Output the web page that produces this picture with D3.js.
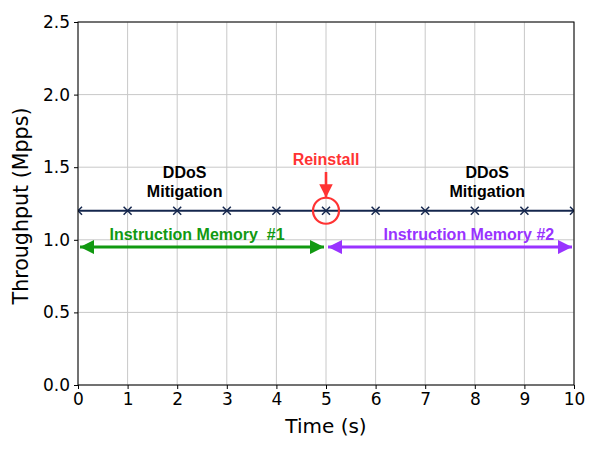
<!DOCTYPE html>
<html><head><meta charset="utf-8">
<script src="https://cdn.jsdelivr.net/npm/d3@7"></script>
<style>body{margin:0;background:#fff}</style>
</head><body>
<svg id="c" width="601" height="452"></svg>
<script>
const timeValues = [0,1,2,3,4,5,6,7,8,9,10];
const throughputValues = [1.2,1.2,1.2,1.2,1.2,1.2,1.2,1.2,1.2,1.2,1.2];
const xTicks = [0,1,2,3,4,5,6,7,8,9,10];
const yTicks = [0.0,0.5,1.0,1.5,2.0,2.5];
const memorySpans = [
  {label:"Instruction Memory  #1", from:0, to:5, y:0.95, labelX:2.4, color:"#119911"},
  {label:"Instruction Memory #2", from:5, to:10, y:0.95, labelX:7.88, color:"#9933ff"}
];
const mitigationLabels = [{x:2.15, text:["DDoS","Mitigation"]},{x:8.25, text:["DDoS","Mitigation"]}];
const reinstallAt = {x:5, y:1.2, label:"Reinstall"};

const svg = d3.select("#c");
const m = {l:78, r:27, t:22, b:67};
const W = 601, H = 452;
const x = d3.scaleLinear().domain([0,10]).range([m.l, W-m.r]);
const y = d3.scaleLinear().domain([0,2.5]).range([H-m.b, m.t]);
const annFont = "Liberation Sans, Arial, sans-serif";

const defs = svg.append("defs");
defs.append("clipPath").attr("id","clip").append("rect")
  .attr("x",m.l).attr("y",m.t).attr("width",W-m.l-m.r).attr("height",H-m.t-m.b);
function marker(id,color,w){
  defs.append("marker").attr("id",id).attr("viewBox","0 0 10 10").attr("refX",10).attr("refY",5)
    .attr("markerWidth",w).attr("markerHeight",w).attr("orient","auto-start-reverse")
    .attr("markerUnits","strokeWidth")
    .append("path").attr("d","M0,0 L10,5 L0,10 Z").attr("fill",color);
}
marker("ag","#119911",4.8); marker("ap","#9933ff",4.8); marker("ar","#ff3333",5.2);

// grid
const g = svg.append("g");
g.selectAll(".gx").data(xTicks).join("line").attr("x1",d=>x(d)).attr("x2",d=>x(d))
  .attr("y1",m.t).attr("y2",H-m.b).attr("stroke","#c8c8c8").attr("stroke-width",1);
g.selectAll(".gy").data(yTicks).join("line").attr("y1",d=>y(d)).attr("y2",d=>y(d))
  .attr("x1",m.l).attr("x2",W-m.r).attr("stroke","#c8c8c8").attr("stroke-width",1);

// data line
const plot = svg.append("g").attr("clip-path","url(#clip)");
const pts = timeValues.map((t,i)=>[t,throughputValues[i]]);
plot.append("path").datum(pts).attr("fill","none").attr("stroke","#14264d").attr("stroke-width",1.8)
  .attr("d", d3.line().x(d=>x(d[0])).y(d=>y(d[1])));
const s = 4;
plot.selectAll(".mk").data(pts).join("path")
  .attr("d",d=>`M${x(d[0])-s},${y(d[1])-s}L${x(d[0])+s},${y(d[1])+s}M${x(d[0])-s},${y(d[1])+s}L${x(d[0])+s},${y(d[1])-s}`)
  .attr("stroke","#14264d").attr("stroke-width",1.5);

// memory arrows
memorySpans.forEach((sp,i)=>{
  const id = i===0?"ag":"ap";
  svg.append("line").attr("x1",x(sp.from)+2).attr("x2",x(sp.to)-2)
    .attr("y1",y(sp.y)).attr("y2",y(sp.y)).attr("stroke",sp.color).attr("stroke-width",3)
    .attr("marker-start",`url(#${id})`).attr("marker-end",`url(#${id})`);
  svg.append("text").attr("x",x(sp.labelX)).attr("y",y(sp.y)-7)
    .attr("text-anchor","middle").attr("fill",sp.color)
    .attr("font-family",annFont).attr("font-weight","bold").attr("font-size",16)
    .style("white-space","pre").text(sp.label);
});

// mitigation labels
mitigationLabels.forEach(ml=>{
  const t = svg.append("text").attr("text-anchor","middle")
    .attr("font-family",annFont).attr("font-weight","bold").attr("font-size",16).attr("fill","#000");
  ml.text.forEach((ln,i)=>t.append("tspan").attr("x",x(ml.x)).attr("y",178+i*19).text(ln));
});

// reinstall
svg.append("circle").attr("cx",x(reinstallAt.x)).attr("cy",y(reinstallAt.y)).attr("r",13)
  .attr("fill","none").attr("stroke","#ff3333").attr("stroke-width",2.2);
svg.append("line").attr("x1",x(reinstallAt.x)).attr("x2",x(reinstallAt.x))
  .attr("y1",172).attr("y2",y(reinstallAt.y)-13).attr("stroke","#ff3333").attr("stroke-width",2.6)
  .attr("marker-end","url(#ar)");
svg.append("text").attr("x",x(reinstallAt.x)).attr("y",164.5).attr("text-anchor","middle")
  .attr("fill","#ff3333").attr("font-family",annFont).attr("font-weight","bold")
  .attr("font-size",16).text(reinstallAt.label);

// axes
const ax = svg.append("g").attr("transform",`translate(0,${H-m.b})`)
  .call(d3.axisBottom(x).tickValues(xTicks).tickFormat(d3.format("d")).tickSizeOuter(0).tickSize(4).tickPadding(4));
const ay = svg.append("g").attr("transform",`translate(${m.l},0)`)
  .call(d3.axisLeft(y).tickValues(yTicks).tickFormat(d3.format(".1f")).tickSizeOuter(0).tickSize(4).tickPadding(4));
[ax,ay].forEach(a=>{
  a.select(".domain").remove();
  a.selectAll("text").attr("font-family","DejaVu Sans, sans-serif").attr("font-size",17).attr("fill","#000");
  a.selectAll("line").attr("stroke","#000");
});
svg.append("rect").attr("x",m.l).attr("y",m.t).attr("width",W-m.l-m.r).attr("height",H-m.t-m.b)
  .attr("fill","none").attr("stroke","#000").attr("stroke-width",1);

svg.append("text").attr("x",326).attr("y",433).attr("text-anchor","middle")
  .attr("font-family","DejaVu Sans, sans-serif").attr("font-size",20).text("Time (s)");
svg.append("text").attr("transform",`translate(28,206) rotate(-90)`).attr("text-anchor","middle")
  .attr("font-family","DejaVu Sans, sans-serif").attr("font-size",20.6).text("Throughput (Mpps)");
</script>
</body></html>
